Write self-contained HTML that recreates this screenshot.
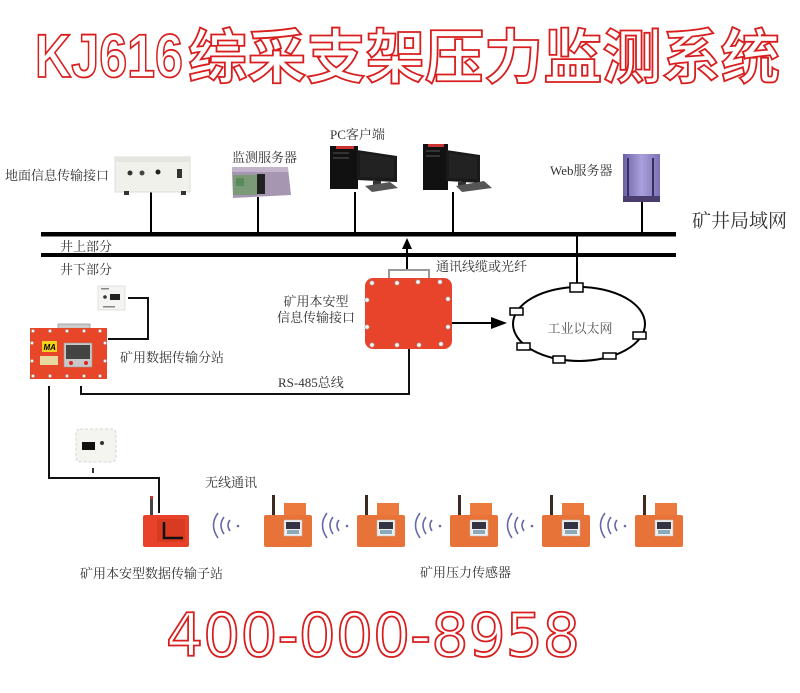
<!DOCTYPE html>
<html>
<head>
<meta charset="utf-8">
<style>
html,body{margin:0;padding:0;background:#fff;}
svg{display:block;}
.lb{font-family:"Liberation Serif","Noto Serif CJK SC",serif;font-size:13px;fill:#333;}
</style>
</head>
<body>
<svg width="800" height="693" viewBox="0 0 800 693" xmlns="http://www.w3.org/2000/svg">
<rect width="800" height="693" fill="#fff"/>

<!-- Title -->
<text x="35" y="77" font-family="Liberation Sans, sans-serif" font-weight="700" font-size="61" textLength="148" lengthAdjust="spacingAndGlyphs" fill="#fff" stroke="#d81e1e" stroke-width="1.8">KJ616</text>
<text x="188" y="78" font-family="Noto Sans CJK SC, sans-serif" font-weight="700" font-size="59" textLength="592" lengthAdjust="spacingAndGlyphs" fill="#fff" stroke="#d81e1e" stroke-width="1.8">综采支架压力监测系统</text>

<!-- Phone -->
<text x="166" y="656" font-family="DejaVu Sans, sans-serif" font-size="60" textLength="414" lengthAdjust="spacingAndGlyphs" fill="#fff" stroke="#d81e1e" stroke-width="1.8">400-000-8958</text>

<!-- Buses -->
<rect x="41" y="232" width="635" height="4.5" fill="#000"/>
<rect x="41" y="253" width="635" height="4" fill="#000"/>

<!-- drop lines -->
<g stroke="#000" stroke-width="2">
<line x1="151" y1="192" x2="151" y2="233"/>
<line x1="258" y1="197" x2="258" y2="233"/>
<line x1="355" y1="192" x2="355" y2="233"/>
<line x1="453" y1="192" x2="453" y2="233"/>
<line x1="642" y1="202" x2="642" y2="233"/>
<line x1="577" y1="236" x2="577" y2="284"/>
<line x1="407" y1="246" x2="407" y2="270"/>
<line x1="452" y1="323" x2="494" y2="323"/>
</g>
<polygon points="407,238 402,249 412,249" fill="#000"/>
<polygon points="507,323 491,317 491,329" fill="#000"/>

<g fill="none" stroke="#111" stroke-width="2">
<path d="M81,386 L81,394 L409,394 L409,349"/>
<path d="M49,386 L49,478 L159,478 L159,513"/>
<path d="M128,298 L148,298 L148,339 L108,339"/>
</g>

<!-- Top devices -->
<!-- 地面信息传输接口 -->
<rect x="115" y="157" width="75" height="35" fill="#f1f1ec" stroke="#ddd" stroke-width="1"/>
<rect x="115" y="157" width="75" height="5" fill="#e6e6e0"/>
<circle cx="130" cy="173" r="2.5" fill="#333"/>
<circle cx="142" cy="173" r="2.5" fill="#444"/>
<circle cx="158" cy="172" r="2.5" fill="#222"/>
<rect x="177" y="169" width="5" height="9" fill="#333"/>
<rect x="124" y="191" width="5" height="4" fill="#333"/>
<rect x="181" y="191" width="5" height="4" fill="#333"/>

<!-- 监测服务器 -->
<polygon points="232,172 288,168 291,195 233,198" fill="#a696b2"/>
<rect x="233" y="175" width="24" height="20" fill="#7a9a78"/>
<rect x="236" y="178" width="8" height="8" fill="#5a8a5a"/>
<rect x="257" y="174" width="8" height="20" fill="#222"/>
<rect x="232" y="167" width="56" height="5" fill="#c2b4ca"/>

<!-- PC 1 -->
<rect x="330" y="146" width="28" height="43" fill="#111"/>
<rect x="336" y="146" width="18" height="3" fill="#c33"/>
<rect x="333" y="152" width="16" height="2" fill="#333"/>
<rect x="333" y="157" width="16" height="2" fill="#333"/>
<polygon points="357,150 397,156 397,182 357,180" fill="#1a1a1a"/>
<polygon points="360,153 394,158 394,178 360,177" fill="#222"/>
<rect x="373" y="181" width="8" height="5" fill="#333"/>
<polygon points="365,186 390,182 398,188 372,192" fill="#555"/>

<!-- PC 2 -->
<rect x="423" y="144" width="25" height="46" fill="#111"/>
<rect x="428" y="144" width="16" height="3" fill="#c33"/>
<rect x="426" y="150" width="14" height="2" fill="#333"/>
<rect x="426" y="155" width="14" height="2" fill="#333"/>
<polygon points="446,150 480,155 480,183 446,181" fill="#1a1a1a"/>
<polygon points="449,153 477,157 477,179 449,178" fill="#222"/>
<rect x="458" y="182" width="8" height="5" fill="#333"/>
<polygon points="456,186 484,181 492,188 462,192" fill="#555"/>

<!-- Web server -->
<defs>
<linearGradient id="ws" x1="0" x2="1" y1="0" y2="0">
<stop offset="0" stop-color="#6a5fa6"/>
<stop offset="0.5" stop-color="#a9a0dc"/>
<stop offset="1" stop-color="#7c72b4"/>
</linearGradient>
</defs>
<rect x="623" y="154" width="37" height="48" fill="url(#ws)"/>
<rect x="627" y="158" width="2" height="42" fill="#3a2e5a"/>
<rect x="652" y="158" width="2" height="42" fill="#3a2e5a"/>
<rect x="623" y="196" width="37" height="6" fill="#4a3e6e"/>

<!-- Labels top -->
<text class="lb" x="5" y="180">地面信息传输接口</text>
<text class="lb" x="232" y="162">监测服务器</text>
<text class="lb" x="330" y="139">PC客户端</text>
<text class="lb" x="550" y="175">Web服务器</text>
<text class="lb" x="692" y="227" style="font-size:19px">矿井局域网</text>
<text class="lb" x="60" y="251">井上部分</text>
<text class="lb" x="60" y="274">井下部分</text>
<text class="lb" x="436" y="271">通讯线缆或光纤</text>

<!-- Interface red box -->
<path d="M389,278 L389,270 L429,270 L429,278" fill="none" stroke="#999" stroke-width="2"/>
<rect x="365" y="278" width="87" height="71" rx="8" fill="#e8432b"/>
<g fill="#f2f2f2" stroke="#999" stroke-width="0.6">
<circle cx="372" cy="283" r="2.2"/><circle cx="397" cy="283" r="2.2"/><circle cx="418" cy="282" r="2.2"/><circle cx="440" cy="282" r="2.2"/>
<circle cx="372" cy="345" r="2.2"/><circle cx="397" cy="345" r="2.2"/><circle cx="419" cy="345" r="2.2"/><circle cx="441" cy="344" r="2.2"/>
<circle cx="367" cy="300" r="2.2"/><circle cx="367" cy="327" r="2.2"/>
<circle cx="448" cy="299" r="2.2"/><circle cx="448" cy="327" r="2.2"/>
</g>
<text class="lb" x="316" y="306" text-anchor="middle">矿用本安型</text>
<text class="lb" x="316" y="322" text-anchor="middle">信息传输接口</text>

<!-- Ring -->
<ellipse cx="579" cy="324" rx="66" ry="37" fill="none" stroke="#000" stroke-width="2"/>
<g fill="#fff" stroke="#000" stroke-width="1.5">
<rect x="570" y="283" width="13" height="9"/>
<rect x="510" y="308" width="13" height="7"/>
<rect x="517" y="343" width="13" height="7"/>
<rect x="553" y="356" width="12" height="7"/>
<rect x="603" y="353" width="13" height="6"/>
<rect x="633" y="332" width="13" height="7"/>
</g>
<text class="lb" x="580" y="333" text-anchor="middle" style="fill:#555">工业以太网</text>

<!-- Small white device top-left -->
<rect x="98" y="286" width="27" height="24" fill="#f4f4f0" stroke="#ddd" stroke-width="0.8"/>
<rect x="110" y="294" width="10" height="6" fill="#222"/>
<circle cx="105" cy="297" r="1.8" fill="#333"/>
<rect x="101" y="288" width="8" height="1.5" fill="#888"/>
<rect x="103" y="306" width="12" height="1.5" fill="#888"/>

<!-- 分站 red station -->
<rect x="58" y="324" width="32" height="5" fill="#ccc" stroke="#999" stroke-width="0.8"/>
<rect x="30" y="328" width="77" height="51" fill="#e84628"/>
<rect x="42" y="341" width="15" height="11" fill="#f2d21e"/>
<text x="43.5" y="350" font-family="Liberation Sans, sans-serif" font-weight="700" font-style="italic" font-size="8" fill="#000">MA</text>
<rect x="40" y="356" width="18" height="9" fill="#e8d8a0"/>
<rect x="64" y="343" width="28" height="24" fill="#c8c8c8" stroke="#999" stroke-width="0.6"/>
<rect x="66" y="345" width="24" height="14" fill="#444"/>
<circle cx="71" cy="363" r="2" fill="#d22"/>
<circle cx="86" cy="363" r="2" fill="#d22"/>
<g fill="#f2f2f2" stroke="#999" stroke-width="0.5">
<circle cx="33" cy="331" r="1.6"/><circle cx="50" cy="331" r="1.6"/><circle cx="67" cy="331" r="1.6"/><circle cx="84" cy="331" r="1.6"/><circle cx="100" cy="331" r="1.6"/>
<circle cx="33" cy="376" r="1.6"/><circle cx="50" cy="376" r="1.6"/><circle cx="67" cy="376" r="1.6"/><circle cx="84" cy="376" r="1.6"/><circle cx="100" cy="376" r="1.6"/>
<circle cx="32" cy="343" r="1.6"/><circle cx="32" cy="361" r="1.6"/>
<circle cx="105" cy="343" r="1.6"/><circle cx="105" cy="361" r="1.6"/>
</g>
<text class="lb" x="120" y="362">矿用数据传输分站</text>
<text class="lb" x="278" y="387">RS-485总线</text>

<!-- Small white device lower -->
<rect x="76" y="429" width="40" height="33" rx="4" fill="#f4f4f0" stroke="#ccc" stroke-width="0.8" stroke-dasharray="3,2"/>
<rect x="82" y="442" width="13" height="8" fill="#111"/>
<circle cx="102" cy="443" r="2" fill="#333"/>
<rect x="92" y="468" width="2" height="5" fill="#333"/>
<text class="lb" x="205" y="487">无线通讯</text>

<!-- Sub-station -->
<rect x="150" y="496" width="3" height="20" fill="#444"/>
<rect x="150" y="496" width="3" height="3" fill="#c33"/>
<rect x="143" y="515" width="46" height="32" rx="2" fill="#e8432a"/>
<rect x="157" y="519" width="28" height="23" fill="#d93a22"/>
<path d="M164,522 L164,538 L183,538" fill="none" stroke="#111" stroke-width="2.5"/>
<text class="lb" x="80" y="578">矿用本安型数据传输子站</text>

<!-- Waves -->
<g fill="none" stroke="#6868a8" stroke-width="1.6">
<g id="wv">
<path d="M218,513 Q209,525 218,538"/>
<path d="M224,517 Q218,525 224,534"/>
<path d="M230,520 Q226,525 230,531"/>
</g>
<use href="#wv" x="109"/>
<use href="#wv" x="202"/>
<use href="#wv" x="294"/>
<use href="#wv" x="387"/>
</g>
<g fill="#6868a8">
<circle cx="238" cy="526" r="1.3"/>
<circle cx="347" cy="526" r="1.3"/>
<circle cx="440" cy="526" r="1.3"/>
<circle cx="532" cy="526" r="1.3"/>
<circle cx="625" cy="526" r="1.3"/>
</g>

<!-- Sensors -->
<g id="sn">
<rect x="272" y="495" width="3" height="22" fill="#3a2a22"/>
<rect x="284" y="503" width="22" height="14" fill="#ec7a3e"/>
<rect x="264" y="515" width="48" height="32" rx="2" fill="#e87338"/>
<rect x="284" y="520" width="18" height="16" fill="#eee" stroke="#bbb" stroke-width="0.5"/>
<rect x="286" y="522" width="14" height="7" fill="#334"/>
<rect x="287" y="530" width="12" height="4" fill="#8ab"/>
</g>
<use href="#sn" x="93"/>
<use href="#sn" x="186"/>
<use href="#sn" x="278"/>
<use href="#sn" x="371"/>

<text class="lb" x="420" y="577">矿用压力传感器</text>
</svg>
</body>
</html>
